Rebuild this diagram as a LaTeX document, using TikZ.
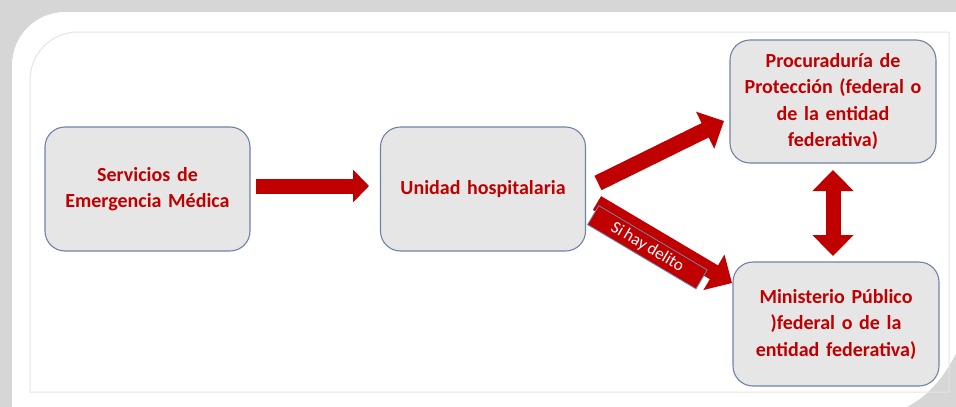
\documentclass[tikz,border=0pt]{standalone}
\usepackage{fontspec}
\setmainfont[WordSpace=0.75]{Carlito}
\usetikzlibrary{arrows.meta}
\definecolor{txtred}{HTML}{C00000}
\definecolor{boxfill}{HTML}{E7E6E6}
\definecolor{boxline}{HTML}{7083A6}
\definecolor{arrred}{HTML}{C00000}
\definecolor{shadowgray}{HTML}{D6D6D6}
\definecolor{framegray}{HTML}{E4E4E4}
\begin{document}
\begin{tikzpicture}[x=1pt,y=-1pt,
  box/.style={draw=boxline, line width=1.1pt, fill=boxfill, rounded corners=20pt,
    minimum width=205pt, minimum height=124pt, text width=200pt, align=center,
    font=\bfseries\fontsize{20}{26.5}\selectfont, text=txtred, inner sep=0pt},
  blockarrow/.style={arrred, line width=16pt, -{Triangle[width=40pt,length=21pt]}},
  dblarrow/.style={arrred, line width=15pt, {Triangle[width=40pt,length=21pt]}-{Triangle[width=40pt,length=21pt]}},
  labelbox/.style={fill=arrred, draw=boxline, line width=0.8pt, text=white,
    font=\fontsize{17}{18}\selectfont, minimum width=126pt, minimum height=22pt, inner sep=0pt}
]
\useasboundingbox (0,0) rectangle (956,407);
% background frame
\fill[shadowgray] (0,0) rectangle (956,407);
\fill[white] (12,410) -- (12,65) .. controls (12,36) and (36,12) .. (65,12) -- (960,12)
  -- (960,345) .. controls (945,378) and (925,400) .. (900,410) -- cycle;
\draw[framegray, line width=1pt] (30,392) -- (30,80) .. controls (30,53.5) and (51.5,32) .. (78,32)
  -- (949,32) -- (949,392) -- cycle;
% boxes
\node[box] (sem) at (147.5,189) {Servicios de\\Emergencia Médica};
\node[box] (uh) at (483,189) {Unidad hospitalaria};
\node[box, minimum width=206pt, minimum height=123pt] (proc) at (833,101.5) {Procuraduría de\\Protección (federal o\\de la entidad\\federativa)};
\node[box, minimum width=206pt] (mp) at (836,324) {Ministerio Público\\)federal o de la\\entidad federativa)};
% arrow end points
\coordinate (a1) at (256,186);
\coordinate (a2) at (369,186);
\coordinate (u1) at (598,183);
\coordinate (u2) at (724,121);
\coordinate (d1) at (597,203);
\coordinate (d2) at (732,283);
\coordinate (v1) at (833,170);
\coordinate (v2) at (833,256);
% arrows
\draw[arrred, line width=15pt, -{Triangle[width=32pt,length=16pt]}] (a1) -- (a2);
\draw[blockarrow] (u1) -- (u2);
\draw[blockarrow] (d1) -- (d2);
\draw[dblarrow] (v1) -- (v2);
\path (d1) -- (d2) node[pos=0.42, sloped, anchor=north, yshift=-1pt, labelbox] (lbl) {Si hay delito};
\end{tikzpicture}
\end{document}
